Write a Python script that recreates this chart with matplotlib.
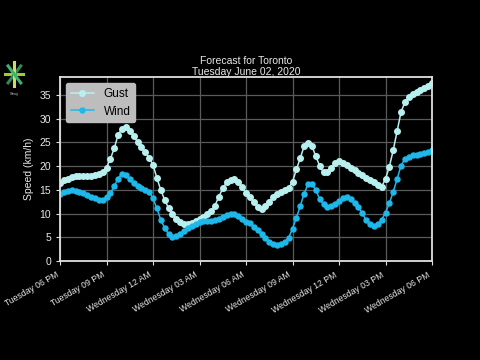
import math
import pandas as pd
import matplotlib
matplotlib.use('Agg')
import matplotlib.pyplot as plt
import matplotlib.dates as mdates

# Datos (cada 15 minutos, de martes 18:00 a miercoles 18:00)
tiempos = pd.date_range('2020-06-02 18:00', '2020-06-03 18:00', freq='15min')

rafagas = [16.5, 17.0, 17.4, 17.7, 17.9, 18.0, 18.0, 18.0, 18.0, 18.1,
           18.3, 18.8, 19.7, 21.5, 23.8, 26.6, 27.9, 28.2, 27.4, 26.4,
           25.1, 24.0, 23.0, 21.8, 20.3, 17.5, 15.0, 12.9, 11.2, 9.9,
           8.9, 8.2, 7.8, 7.8, 8.0, 8.4, 8.8, 9.2, 9.9, 10.6,
           11.7, 13.6, 15.3, 16.6, 17.1, 17.2, 16.6, 15.6, 14.3, 13.6,
           12.4, 11.4, 11.0, 11.5, 12.5, 13.5, 14.2, 14.6, 14.9, 15.4,
           16.7, 19.3, 21.7, 24.2, 24.9, 24.3, 22.1, 20.1, 18.7, 18.7,
           19.6, 20.6, 21.1, 20.7, 20.2, 19.7, 19.2, 18.6, 18.1, 17.6,
           17.1, 16.6, 16.1, 15.7, 17.3, 19.9, 23.4, 27.4, 31.4, 33.5,
           34.6, 35.2, 35.6, 36.0, 36.5, 36.9, 37.5]

viento = [14.2, 14.5, 14.8, 14.9, 14.8, 14.6, 14.3, 13.9, 13.5, 13.2,
          12.9, 12.9, 13.5, 14.3, 15.8, 17.4, 18.4, 18.2, 17.3, 16.4,
          15.8, 15.4, 15.0, 14.6, 13.2, 11.1, 8.7, 7.0, 5.7, 5.1,
          5.2, 5.7, 6.4, 7.0, 7.4, 7.8, 8.2, 8.4, 8.5, 8.5,
          8.6, 8.9, 9.2, 9.6, 9.9, 9.9, 9.4, 8.8, 8.3, 8.1,
          7.2, 6.5, 5.7, 4.9, 4.1, 3.6, 3.3, 3.5, 4.0, 4.9,
          6.8, 9.1, 11.6, 14.2, 16.2, 16.2, 15.0, 13.1, 12.0, 11.4,
          11.6, 12.1, 12.7, 13.2, 13.5, 13.0, 12.2, 11.4, 10.1, 8.6,
          7.7, 7.3, 7.7, 8.7, 10.2, 12.2, 14.6, 17.3, 20.1, 21.5,
          22.0, 22.3, 22.4, 22.5, 22.7, 23.0, 23.5]

plt.rcParams['font.family'] = ['Liberation Sans', 'DejaVu Sans']
plt.rcParams['font.size'] = 7.5

fig = plt.figure(figsize=(4.8, 3.6), dpi=100, facecolor='black')
ax = fig.add_axes([0.125, 0.275, 0.775, 0.511], facecolor='black')

ax.plot(tiempos, rafagas, color='#b8f0f0', marker='o', markersize=4,
        linewidth=1.1, label='Gust')
ax.plot(tiempos, viento, color='#1fb8ea', marker='o', markersize=3.6,
        linewidth=1.1, label='Wind')

ax.set_xlim(tiempos[0], tiempos[-1])
ax.set_ylim(0, 38.8)
ax.set_yticks(range(0, 40, 5))

ax.xaxis.set_major_locator(mdates.HourLocator(byhour=range(0, 24, 3)))
ax.xaxis.set_major_formatter(mdates.DateFormatter('%A %I %p'))
plt.setp(ax.get_xticklabels(), rotation=30, ha='right', fontsize=6.2)

ax.grid(True, color='#5a5a5a', linewidth=0.9)
for lado in ax.spines.values():
    lado.set_color('#e0e0e0')
    lado.set_linewidth(1.3)
ax.tick_params(colors='#e0e0e0', labelcolor='#e8e8e8', length=3)

ax.set_ylabel('Speed (km/h)', color='#e8e8e8')
ax.set_title('Forecast for Toronto\nTuesday June 02, 2020', color='#e8e8e8',
             fontsize=7.5, linespacing=1.1, pad=1)

leyenda = ax.legend(loc='upper left', fontsize=8.5, facecolor='#bdbdbd',
                    framealpha=1, edgecolor='#bdbdbd')
for texto in leyenda.get_texts():
    texto.set_color('black')

# Logo pequeño arriba a la izquierda
logo = fig.add_axes([0.0, 0.74, 0.06, 0.1])
logo.set_facecolor('black')
logo.axis('off')
colores_logo = ['#9acd32', '#2e8b57', '#c8e05a', '#3cb371']
for k in range(8):
    ang = k * math.pi / 4
    logo.plot([0, math.cos(ang)], [0, math.sin(ang)],
              color=colores_logo[k % 4], linewidth=2.2)
logo.set_xlim(-1.6, 1.6)
logo.set_ylim(-1.6, 1.4)
fig.text(0.031, 0.735, 'Sexy', color='#cccccc', fontsize=3, ha='center')

fig.savefig('out.png', dpi=100, facecolor='black')
